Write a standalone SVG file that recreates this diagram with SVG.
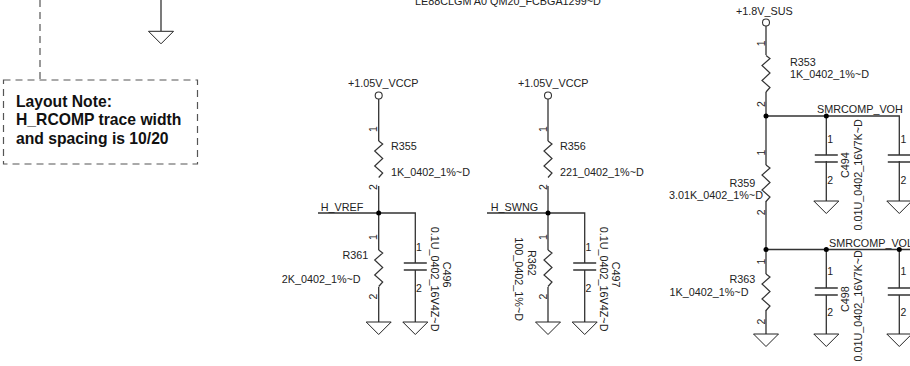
<svg xmlns="http://www.w3.org/2000/svg" xmlns:xlink="http://www.w3.org/1999/xlink" width="910" height="366" viewBox="0 0 910 366">
<style>
text{font-family:"Liberation Sans",Arial,sans-serif;font-size:10.8px;fill:#222}
.b{font-weight:bold;font-size:15.700px;fill:#111}
.p{font-size:10.500px;text-anchor:middle}
.q{font-size:10.500px}
.w{fill:none;stroke:#333;stroke-width:1.3}
.g{fill:none;stroke:#222;stroke-width:1}
.n{fill:none;stroke:#333;stroke-width:1.200}
.c{fill:none;stroke:#333;stroke-width:1.400}
.d{fill:none;stroke:#555;stroke-width:1.200;stroke-dasharray:7 5}
.v{fill:#fff;stroke:#333;stroke-width:1.100}
.j{fill:#000}
</style>
<defs>
<path id="gnd" class="g" d="M-12.500 0H12.500L0 12.500Z"/>
<path id="res" class="n" d="M0 0L4 3L-4 10L4 17.500L-4 25L4 32L0 36.500"/>
<path id="cap" class="c" d="M-11.500 0H11.500M-11.500 7H11.500"/>
</defs>
<rect width="910" height="366" fill="#fff"/>
<g id="connectors">
<path class="w" d="M161 0V31"/>
<path class="d" d="M40 0V80"/>
<path class="w" d="M378.700 99V141M378.700 186V213M318 213H415.300V263M415.300 270V322M378.700 213V250M378.700 287V322"/>
<path class="w" d="M548 99V141M548 186V213M487 213H584.700V263M584.700 270V322M548 213V250M548 287V322"/>
<path class="w" d="M766 26V55M766 92V165M766 116H899.300V155M826.300 116V155M826.300 161V201M899.300 161V201M766 201V274M766 249.500H910M826.300 249.500V288M899.300 249.500V288M826.300 295V334M899.300 295V334M766 310V334"/>
</g>
<g id="note">
<rect class="d" x="3.500" y="80" width="194" height="84"/>
<text class="b" x="16" y="106.500">Layout Note:</text>
<text class="b" x="16" y="125">H_RCOMP trace width</text>
<text class="b" x="16" y="144">and spacing is 10/20</text>
</g>
<g id="gnd-top"><use xlink:href="#gnd" href="#gnd" x="161" y="31.300"/></g>
<g id="title"><text x="415" y="5">LE88CLGM A0 QM20_FCBGA1299~D</text></g>
<g id="vccp1"><circle class="v" cx="378.700" cy="95.500" r="3.500"/><text x="348" y="87">+1.05V_VCCP</text></g>
<g id="vccp2"><circle class="v" cx="548" cy="95.500" r="3.500"/><text x="518" y="87">+1.05V_VCCP</text></g>
<g id="sus"><circle class="v" cx="766" cy="22.500" r="3.500"/><text x="736" y="15.300">+1.8V_SUS</text></g>
<g id="R355"><use xlink:href="#res" href="#res" x="378.700" y="141"/>
<text class="p" transform="translate(377 129) rotate(-90)">1</text><text class="p" transform="translate(377 187) rotate(-90)">2</text>
<text x="391" y="150">R355</text><text x="391" y="175.500">1K_0402_1%~D</text></g>
<g id="R356"><use xlink:href="#res" href="#res" x="548" y="141"/>
<text class="p" transform="translate(546.500 129) rotate(-90)">1</text><text class="p" transform="translate(546.500 187) rotate(-90)">2</text>
<text x="560" y="150">R356</text><text x="560" y="175.500">221_0402_1%~D</text></g>
<g id="R361"><use xlink:href="#res" href="#res" x="378.700" y="250"/>
<text class="p" transform="translate(377 237) rotate(-90)">1</text><text class="p" transform="translate(377 296.700) rotate(-90)">2</text>
<text x="342.500" y="259">R361</text><text x="281.700" y="283.300">2K_0402_1%~D</text></g>
<g id="R362"><use xlink:href="#res" href="#res" x="548" y="250"/>
<text class="p" transform="translate(546.500 237) rotate(-90)">1</text><text class="p" transform="translate(546.500 296.700) rotate(-90)">2</text>
<text transform="translate(528.300 250) rotate(90)">R362</text><text transform="translate(515 237.300) rotate(90)">100_0402_1%~D</text></g>
<g id="C496"><use xlink:href="#cap" href="#cap" x="415.300" y="263"/>
<text class="q" x="416" y="250.700">1</text><text class="q" x="416" y="291.700">2</text>
<text transform="translate(443.300 261.700) rotate(90)">C496</text><text transform="translate(431 226.700) rotate(90)">0.1U_0402_16V4Z~D</text></g>
<g id="C497"><use xlink:href="#cap" href="#cap" x="584.700" y="263"/>
<text class="q" x="585.500" y="250.700">1</text><text class="q" x="585.500" y="291.700">2</text>
<text transform="translate(612.300 261.700) rotate(90)">C497</text><text transform="translate(600 226.700) rotate(90)">0.1U_0402_16V4Z~D</text></g>
<g id="R353"><use xlink:href="#res" href="#res" x="766" y="55.500"/>
<text class="p" transform="translate(765 43.300) rotate(-90)">1</text><text class="p" transform="translate(765 104) rotate(-90)">2</text>
<text x="790" y="66">R353</text><text x="790" y="78.300">1K_0402_1%~D</text></g>
<g id="R359"><use xlink:href="#res" href="#res" x="766" y="165"/>
<text class="p" transform="translate(765 152.700) rotate(-90)">1</text><text class="p" transform="translate(765 212.300) rotate(-90)">2</text>
<text x="729.500" y="186.700">R359</text><text x="669" y="199.300">3.01K_0402_1%~D</text></g>
<g id="R363"><use xlink:href="#res" href="#res" x="766" y="274"/>
<text class="p" transform="translate(765 261.700) rotate(-90)">1</text><text class="p" transform="translate(765 321.700) rotate(-90)">2</text>
<text x="729.500" y="282.700">R363</text><text x="669.500" y="296">1K_0402_1%~D</text></g>
<g id="C494"><use xlink:href="#cap" href="#cap" x="826.300" y="155"/>
<text class="q" x="827.300" y="143">1</text><text class="q" x="827.300" y="184">2</text>
<text transform="translate(848.500 178) rotate(-90)">C494</text><text transform="translate(861.700 230.500) rotate(-90)">0.01U_0402_16V7K~D</text></g>
<g id="C495"><use xlink:href="#cap" href="#cap" x="899.300" y="155"/>
<text class="q" x="900.500" y="143">1</text><text class="q" x="900.500" y="184">2</text></g>
<g id="C498"><use xlink:href="#cap" href="#cap" x="826.300" y="288"/>
<text class="q" x="827.300" y="275">1</text><text class="q" x="827.300" y="316">2</text>
<text transform="translate(849 312) rotate(-90)">C498</text><text transform="translate(861.700 361.500) rotate(-90)">0.01U_0402_16V7K~D</text></g>
<g id="C499"><use xlink:href="#cap" href="#cap" x="899.300" y="288"/>
<text class="q" x="900.500" y="275">1</text><text class="q" x="900.500" y="316">2</text></g>
<g id="nets">
<text x="320.700" y="211">H_VREF</text><text x="490.700" y="211">H_SWNG</text>
<text x="817" y="113">SMRCOMP_VOH</text><text x="829" y="246.700">SMRCOMP_VOL</text>
</g>
<g id="junctions">
<circle class="j" cx="378.700" cy="213" r="2.500"/><circle class="j" cx="548" cy="213" r="2.500"/>
<circle class="j" cx="766" cy="116" r="2.500"/><circle class="j" cx="826.300" cy="116" r="2.500"/>
<circle class="j" cx="766" cy="249.500" r="2.500"/><circle class="j" cx="826.300" cy="249.500" r="2.500"/><circle class="j" cx="899.300" cy="249.500" r="2.500"/>
</g>
<g id="grounds">
<use xlink:href="#gnd" href="#gnd" x="378.700" y="322"/><use xlink:href="#gnd" href="#gnd" x="415.300" y="322"/>
<use xlink:href="#gnd" href="#gnd" x="548" y="322"/><use xlink:href="#gnd" href="#gnd" x="584.700" y="322"/>
<use xlink:href="#gnd" href="#gnd" x="826.300" y="201"/><use xlink:href="#gnd" href="#gnd" x="899.300" y="201"/>
<use xlink:href="#gnd" href="#gnd" x="766" y="334"/><use xlink:href="#gnd" href="#gnd" x="826.300" y="334"/><use xlink:href="#gnd" href="#gnd" x="899.300" y="334"/>
</g>
</svg>
